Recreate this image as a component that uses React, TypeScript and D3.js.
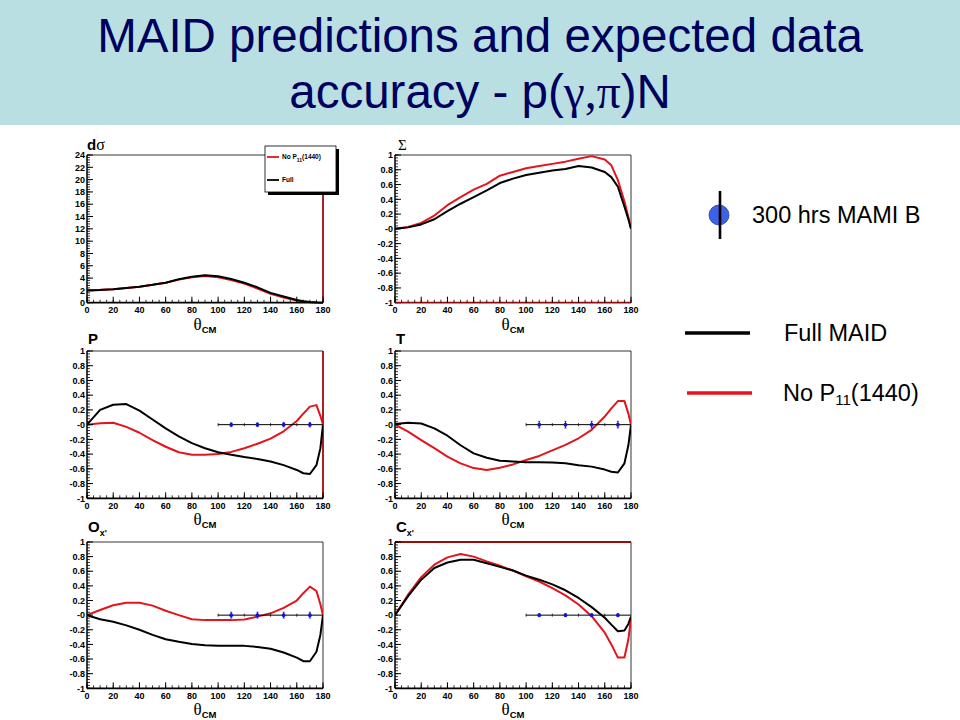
import React from 'react';
import * as d3 from 'd3';

// Angle grid (theta_CM, degrees) shared by every MAID curve
const ANGLES = [0, 10, 20, 30, 40, 50, 60, 70, 80, 90, 100, 110, 120, 130, 140, 150, 160, 165, 170, 175, 178, 180];

// d sigma
const DSIG_FULL = [1.95, 2.05, 2.2, 2.4, 2.6, 2.9, 3.25, 3.8, 4.2, 4.45, 4.3, 3.85, 3.25, 2.5, 1.6, 1.0, 0.45, 0.25, 0.1, 0.03, 0.01, 0];
const DSIG_NOP11 = [2.05, 2.1, 2.2, 2.4, 2.6, 2.9, 3.25, 3.75, 4.15, 4.35, 4.15, 3.7, 3.1, 2.3, 1.45, 0.85, 0.35, 0.18, 0.07, 0.02, 0.01, 0];
// Sigma
const SIGMA_FULL = [0, 0.02, 0.06, 0.13, 0.24, 0.34, 0.43, 0.52, 0.62, 0.68, 0.73, 0.76, 0.79, 0.81, 0.85, 0.83, 0.77, 0.7, 0.57, 0.3, 0.13, 0];
const SIGMA_NOP11 = [0, 0.025, 0.08, 0.18, 0.32, 0.43, 0.53, 0.61, 0.72, 0.77, 0.82, 0.85, 0.88, 0.91, 0.95, 0.985, 0.94, 0.86, 0.66, 0.37, 0.16, 0];
// P
const P_FULL = [0, 0.2, 0.27, 0.28, 0.19, 0.07, -0.05, -0.16, -0.25, -0.32, -0.375, -0.41, -0.44, -0.465, -0.5, -0.55, -0.615, -0.66, -0.67, -0.55, -0.32, 0];
const P_NOP11 = [0, 0.02, 0.025, -0.03, -0.11, -0.21, -0.3, -0.375, -0.41, -0.41, -0.4, -0.37, -0.32, -0.26, -0.19, -0.09, 0.05, 0.15, 0.245, 0.265, 0.12, 0];
// T
const T_FULL = [0.01, 0.025, 0.015, -0.05, -0.15, -0.28, -0.39, -0.45, -0.49, -0.5, -0.51, -0.512, -0.515, -0.525, -0.55, -0.57, -0.61, -0.64, -0.65, -0.525, -0.28, 0];
const T_NOP11 = [0, -0.095, -0.21, -0.32, -0.435, -0.525, -0.59, -0.615, -0.585, -0.54, -0.48, -0.425, -0.35, -0.275, -0.185, -0.07, 0.11, 0.22, 0.32, 0.32, 0.15, 0];
// Ox'
const OX_FULL = [0, -0.055, -0.09, -0.14, -0.2, -0.27, -0.33, -0.365, -0.395, -0.41, -0.42, -0.42, -0.42, -0.435, -0.46, -0.51, -0.58, -0.63, -0.63, -0.5, -0.27, 0];
const OX_NOP11 = [0, 0.07, 0.135, 0.17, 0.17, 0.13, 0.06, 0, -0.055, -0.068, -0.068, -0.068, -0.06, -0.02, 0.025, 0.1, 0.2, 0.3, 0.39, 0.33, 0.15, 0];
// Cx'
const CX_FULL = [0, 0.26, 0.485, 0.645, 0.72, 0.757, 0.757, 0.71, 0.66, 0.61, 0.54, 0.485, 0.42, 0.34, 0.235, 0.11, -0.035, -0.13, -0.22, -0.21, -0.12, -0.02];
const CX_NOP11 = [0, 0.28, 0.52, 0.69, 0.79, 0.835, 0.8, 0.735, 0.675, 0.61, 0.53, 0.46, 0.37, 0.27, 0.145, -0.015, -0.24, -0.4, -0.58, -0.58, -0.33, -0.04];

// expected MAMI B points (value 0, statistical error)
const DATA_ANGLES = [110, 130, 150, 170];
const DATA_BIN_HALF = 10;
const P_ERR = [0.025, 0.025, 0.03, 0.03];
const T_ERR = [0.045, 0.045, 0.045, 0.045];
const OX_ERR = [0.04, 0.04, 0.04, 0.04];
const CX_ERR = [0.02, 0.02, 0.02, 0.02];

const X_TICKS = [0, 20, 40, 60, 80, 100, 120, 140, 160, 180];

const RED = '#e3141b';
const DARK_RED = '#9c0a0a';
const NAVY = '#00005e';
const SANS = 'Arial, "Liberation Sans", Helvetica, sans-serif';
const SERIF = '"Times New Roman", "Liberation Serif", serif';

const COLS = [[87, 323], [395, 631]];
const ROWS = [[155, 302.7], [351, 498.3], [542, 688.3]];

type Panel = {
  id: string;
  col: number;
  row: number;
  yDomain: [number, number];
  full: number[];
  noP11: number[];
  err?: number[];
  redEdge?: 'top' | 'right' | 'bottom';
};

const PANELS: Panel[] = [
  { id: 'dsig', col: 0, row: 0, yDomain: [0, 24], full: DSIG_FULL, noP11: DSIG_NOP11, redEdge: 'right' },
  { id: 'sigma', col: 1, row: 0, yDomain: [-1, 1], full: SIGMA_FULL, noP11: SIGMA_NOP11, redEdge: 'bottom' },
  { id: 'P', col: 0, row: 1, yDomain: [-1, 1], full: P_FULL, noP11: P_NOP11, err: P_ERR, redEdge: 'right' },
  { id: 'T', col: 1, row: 1, yDomain: [-1, 1], full: T_FULL, noP11: T_NOP11, err: T_ERR },
  { id: 'Ox', col: 0, row: 2, yDomain: [-1, 1], full: OX_FULL, noP11: OX_NOP11, err: OX_ERR },
  { id: 'Cx', col: 1, row: 2, yDomain: [-1, 1], full: CX_FULL, noP11: CX_NOP11, err: CX_ERR, redEdge: 'top' },
];

function PanelTitle({ id, x, y }: { id: string; x: number; y: number }) {
  const bold = { fontFamily: SANS, fontWeight: 'bold' as const, fontSize: 15 };
  if (id === 'dsig')
    return (
      <text x={x} y={y - 5} {...bold}>
        d<tspan fontFamily={SERIF} fontWeight="normal" fontSize={16}>σ</tspan>
      </text>
    );
  if (id === 'sigma')
    return <text x={x + 3} y={y - 5} fontFamily={SERIF} fontSize={15}>Σ</text>;
  if (id === 'P' || id === 'T')
    return <text x={x + 1} y={y - 7} {...bold}>{id}</text>;
  const letter = id === 'Ox' ? 'O' : 'C';
  return (
    <text x={x + 1} y={y - 10} {...bold}>
      {letter}
      <tspan fontSize={9} dy={4}>x'</tspan>
    </text>
  );
}

function PanelChart({ p }: { p: Panel }) {
  const [x0, x1] = COLS[p.col];
  const [y0, y1] = ROWS[p.row];
  const x = d3.scaleLinear().domain([0, 180]).range([x0, x1]);
  const y = d3.scaleLinear().domain(p.yDomain).range([y1, y0]);
  const yTicks = y.ticks(p.id === 'dsig' ? 12 : 10);
  const majorStep = yTicks[1] - yTicks[0];
  const yMinor = d3.range(p.yDomain[0], p.yDomain[1] + 1e-9, majorStep / 5);
  const xMinor = d3.range(0, 181, 5);
  const fmt = (v: number) => {
    const r = Math.round(v * 100) / 100;
    if (p.id !== 'dsig' && r === 0) return '-0';
    return String(r);
  };
  const line = d3
    .line<number>()
    .x((_, i) => x(ANGLES[i]))
    .y((d) => y(d));
  const clipId = `clip-${p.id}`;
  const mid = (x0 + x1) / 2;

  return (
    <g>
      <defs>
        <clipPath id={clipId}>
          <rect x={x0} y={y0 - 1} width={x1 - x0} height={y1 - y0 + 2} />
        </clipPath>
      </defs>
      {/* frame */}
      <line x1={x0} x2={x1} y1={y0} y2={y0} stroke={p.redEdge === 'top' ? DARK_RED : '#000'} strokeWidth={p.redEdge === 'top' ? 1.8 : 0.8} />
      <line x1={x1} x2={x1} y1={y0} y2={y1} stroke={p.redEdge === 'right' ? DARK_RED : '#000'} strokeWidth={p.redEdge === 'right' ? 1.8 : 0.8} />

      {/* curves */}
      <g clipPath={`url(#${clipId})`} fill="none" strokeWidth={2} strokeLinejoin="round">
        <path d={line(p.noP11) || ''} stroke={RED} />
        <path d={line(p.full) || ''} stroke="#000" />
      </g>

      {/* expected data */}
      {p.err && (
        <g>
          {DATA_ANGLES.map((a, i) => (
            <g key={a}>
              <line x1={x(a - DATA_BIN_HALF)} x2={x(a + DATA_BIN_HALF)} y1={y(0)} y2={y(0)} stroke="#000" strokeWidth={1} />
              <line x1={x(a - DATA_BIN_HALF)} x2={x(a - DATA_BIN_HALF)} y1={y(0) - 1.5} y2={y(0) + 1.5} stroke="#000" strokeWidth={0.8} />
              <line x1={x(a)} x2={x(a)} y1={y(p.err![i])} y2={y(-p.err![i])} stroke="#1010c0" strokeWidth={1} />
              <line x1={x(a) - 1} x2={x(a) + 1} y1={y(p.err![i])} y2={y(p.err![i])} stroke="#1010c0" strokeWidth={0.8} />
              <line x1={x(a) - 1} x2={x(a) + 1} y1={y(-p.err![i])} y2={y(-p.err![i])} stroke="#1010c0" strokeWidth={0.8} />
              <circle cx={x(a)} cy={y(0)} r={1.9} fill="#1414d0" />
            </g>
          ))}
        </g>
      )}

      {/* y axis */}
      <line x1={x0} x2={x0} y1={y0} y2={y1} stroke="#000" strokeWidth={1.5} />
      {yMinor.map((v) => (
        <line key={`ym${v}`} x1={x0} x2={x0 + 3} y1={y(v)} y2={y(v)} stroke="#000" strokeWidth={0.8} />
      ))}
      {yTicks.map((v) => (
        <g key={`y${v}`}>
          <line x1={x0} x2={x0 + 6} y1={y(v)} y2={y(v)} stroke="#000" strokeWidth={1} />
          <text x={x0 - 2} y={y(v) + 3.2} textAnchor="end" fontFamily={SANS} fontWeight="bold" fontSize={9}>
            {fmt(v)}
          </text>
        </g>
      ))}

      {/* x axis */}
      <line x1={x0} x2={x1} y1={y1} y2={y1} stroke={p.redEdge === 'bottom' ? DARK_RED : '#000'} strokeWidth={1.8} />
      {xMinor.map((v) => (
        <line key={`xm${v}`} x1={x(v)} x2={x(v)} y1={y1} y2={y1 - 3} stroke="#000" strokeWidth={0.8} />
      ))}
      {X_TICKS.map((v) => (
        <g key={`x${v}`}>
          <line x1={x(v)} x2={x(v)} y1={y1} y2={y1 - 6} stroke="#000" strokeWidth={1} />
          <text x={x(v)} y={y1 + 10.5} textAnchor="middle" fontFamily={SANS} fontWeight="bold" fontSize={9}>
            {v}
          </text>
        </g>
      ))}
      <text x={mid} y={y1 + 27} textAnchor="middle" fontFamily={SERIF} fontSize={17}>
        θ<tspan fontFamily={SANS} fontWeight="bold" fontSize={9.5} dy={3}>CM</tspan>
      </text>

      <PanelTitle id={p.id} x={x0} y={y0} />

      {p.id === 'dsig' && (
        <g>
          <rect x={268} y={149} width={71} height={46} fill="#000" />
          <rect x={265} y={146} width={71} height={46} fill="#fff" stroke="#000" strokeWidth={0.8} />
          <line x1={267} x2={279} y1={157} y2={157} stroke={RED} strokeWidth={1.8} />
          <text x={282} y={159} fontFamily={SANS} fontWeight="bold" fontSize={6.5}>
            No P<tspan fontSize={5} dy={3}>11</tspan><tspan dy={-3}>(1440)</tspan>
          </text>
          <line x1={267} x2={279} y1={180} y2={180} stroke="#000" strokeWidth={1.8} />
          <text x={282} y={182} fontFamily={SANS} fontWeight="bold" fontSize={6.5}>Full</text>
        </g>
      )}
    </g>
  );
}

export default function App() {
  return (
    <svg width={960} height={720} style={{ position: 'absolute', left: 0, top: 0, display: 'block' }}>
      <rect x={0} y={0} width={960} height={720} fill="#fff" />
      <rect x={0} y={0} width={960} height={125} fill="#b9dfe3" />
      <text x={480} y={52} textAnchor="middle" fontFamily={SANS} fontSize={47.5} fill={NAVY}>
        MAID predictions and expected data
      </text>
      <text x={480} y={108} textAnchor="middle" fontFamily={SANS} fontSize={47.5} fill={NAVY}>
        accuracy - p(<tspan fontFamily={SERIF}>γ,π</tspan>)N
      </text>

      {PANELS.map((p) => (
        <PanelChart key={p.id} p={p} />
      ))}

      {/* right-hand legend */}
      <circle cx={719} cy={215} r={10} fill="#3d62e6" stroke="#24409c" strokeWidth={0.8} />
      <line x1={720} x2={720} y1={191} y2={239} stroke="#000" strokeWidth={2.6} />
      <text x={752} y={223} fontFamily={SANS} fontSize={23.5}>300 hrs MAMI B</text>

      <line x1={685} x2={750} y1={333} y2={333} stroke="#000" strokeWidth={3.4} />
      <text x={784} y={341} fontFamily={SANS} fontSize={23.5}>Full MAID</text>

      <line x1={687} x2={752} y1={393} y2={393} stroke={RED} strokeWidth={3.4} />
      <text x={783} y={401} fontFamily={SANS} fontSize={23.5}>
        No P<tspan fontSize={15} dy={4}>11</tspan><tspan dy={-4}>(1440)</tspan>
      </text>
    </svg>
  );
}
